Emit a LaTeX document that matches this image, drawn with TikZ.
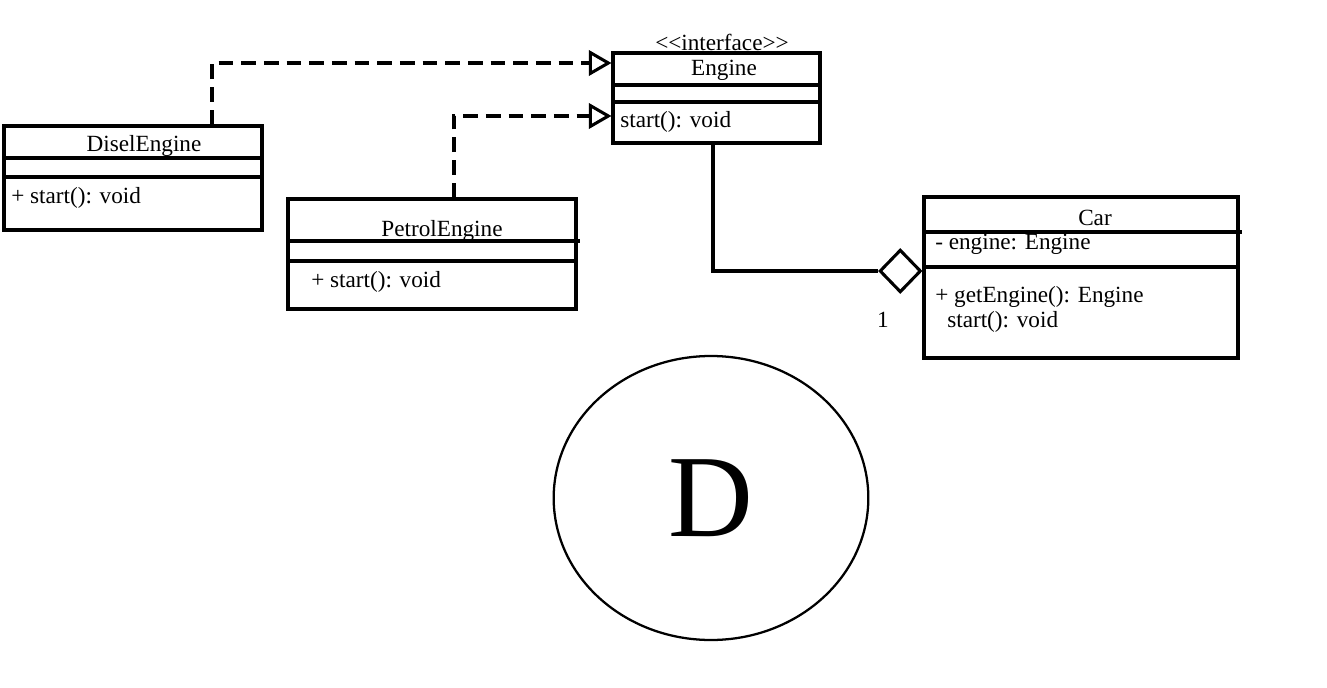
\documentclass[tikz,border=0pt]{standalone}
\usepackage{fontspec}
\setmainfont{Liberation Serif}
\usetikzlibrary{shapes.geometric, arrows.meta, positioning}

\begin{document}
\begin{tikzpicture}[
            x=0.75pt, y=-0.75pt,
            umlbox/.style={draw, line width=2.3pt, inner sep=0pt},
            sep/.style={line width=2.3pt},
            member/.style={anchor=west, inner sep=0pt},
            realize/.style={line width=2.3pt, dash pattern=on 11pt off 6pt, -{Triangle[open, length=17pt, width=19pt, line join=miter]}},
            every node/.style={font=\fontsize{17.4}{20}\selectfont}
        ]
            \useasboundingbox (0,0) rectangle (1327,688);

            % interface
            \node[umlbox, minimum width=155.25pt, minimum height=67.5pt] (engine) at (716.5,98) {};
            \node (stereo) at (722,42) {<{}<interface>{}>};
            \node (engtitle) at (724,70) {Engine};
            \draw[sep] (engine.west |- 0,85) -- (engine.east |- 0,85);
            \draw[sep] (engine.west |- 0,102) -- (engine.east |- 0,102);
            \node[member] (engstart) at (620,122) {start(): void};

            % implementations
            \node[umlbox, minimum width=193.5pt, minimum height=78pt] (disel) at (133,178) {};
            \node (diseltitle) at (144,146) {DiselEngine};
            \draw[sep] (disel.west |- 0,158) -- (disel.east |- 0,158);
            \draw[sep] (disel.west |- 0,177) -- (disel.east |- 0,177);
            \node[member] (diselstart) at (11,198) {+ start(): void};

            \node[umlbox, minimum width=216pt, minimum height=82.5pt] (petrol) at (432,254) {};
            \node (petroltitle) at (442,231) {PetrolEngine};
            \draw[sep] (petrol.west |- 0,241) -- ([xshift=2pt]petrol.east |- 0,241);
            \draw[sep] (petrol.west |- 0,261) -- (petrol.east |- 0,261);
            \node[member] (petrolstart) at (311,282) {+ start(): void};

            % client
            \node[umlbox, minimum width=235.5pt, minimum height=120.75pt] (car) at (1081,277.5) {};
            \node (cartitle) at (1095,218) {Car};
            \draw[sep] (car.west |- 0,232) -- ([xshift=2pt]car.east |- 0,232);
            \draw[sep] (car.west |- 0,267) -- (car.east |- 0,267);
            \node[member] (carengine) at (935,244) {- engine: Engine};
            \node[member] (getengine) at (935,297) {+ getEngine(): Engine};
            \node[member] (carstart) at (947,322) {start(): void};

            \node[draw, diamond, line width=2.3pt, inner sep=0pt, minimum width=31pt, minimum height=32pt, anchor=east] (agg) at (car.west |- 0,271) {};
            \node (mult) at (883,320) {1};

            \draw[realize] (disel.north -| 212,0) |- (engine.west |- 0,63);
            \draw[realize] (petrol.north -| 454,0) |- (engine.west |- 0,116);
            \draw[sep] (engine.south -| 713,0) |- (agg.west);

            \node[draw, ellipse, line width=1.7pt, minimum width=236pt, minimum height=213pt, font=\fontsize{88}{90}\selectfont] (dmark) at (711,498) {D};
        \end{tikzpicture}
\end{document}
